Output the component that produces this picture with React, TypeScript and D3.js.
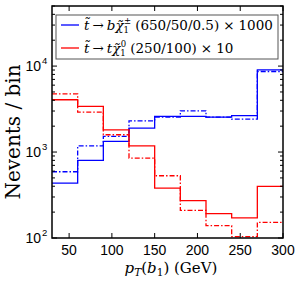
import React from "react";
import * as d3 from "d3";

// bin edges in GeV, 30 .. 300 in steps of 30
const binEdges = [30, 60, 90, 120, 150, 180, 210, 240, 270, 300];

// stop -> b chargino (blue) and stop -> t neutralino (red), events per bin
const blueSolid = [435, 800, 1330, 1900, 2600, 2600, 2550, 2650, 9050];
const blueDashDot = [590, 1180, 1520, 2310, 2550, 3020, 2550, 2420, 8650];
const redSolid = [4060, 3390, 1810, 1180, 381, 272, 192, 171, 398];
const redDashDot = [4760, 2920, 1590, 851, 530, 210, 139, 104, 152];

const xTicks = [50, 100, 150, 200, 250, 300];
const yMajor = [100, 1000, 10000];
const yTickLabels = ["2", "3", "4"];

const W = 300;
const H = 281;
const margin = { left: 52, right: 17, top: 6, bottom: 43 };

export default function App() {
  const x = d3
    .scaleLinear()
    .domain([30, 300])
    .range([margin.left, W - margin.right]);
  const y = d3
    .scaleLog()
    .domain([100, 50000])
    .range([H - margin.bottom, margin.top]);

  const stepLine = d3
    .line<[number, number]>()
    .x((d) => x(d[0]))
    .y((d) => y(Math.max(d[1], 1)))
    .curve(d3.curveStepAfter);

  const toPath = (vals: number[]) => {
    const pts: [number, number][] = vals.map((v, i) => [binEdges[i], v]);
    pts.push([binEdges[binEdges.length - 1], vals[vals.length - 1]]);
    return stepLine(pts) || "";
  };

  // minor ticks for log axis
  const yMinor: number[] = [];
  [100, 1000, 10000].forEach((dec) => {
    for (let k = 2; k <= 9; k++) {
      const v = dec * k;
      if (v <= 50000) yMinor.push(v);
    }
  });

  const x0 = x.range()[0];
  const x1 = x.range()[1];
  const yb = y.range()[0];
  const yt = y.range()[1];

  const series = [
    { vals: blueDashDot, color: "#0000ff", dash: "5,2,1.5,2" },
    { vals: blueSolid, color: "#0000ff", dash: null },
    { vals: redDashDot, color: "#ff0000", dash: "5,2,1.5,2" },
    { vals: redSolid, color: "#ff0000", dash: null },
  ];

  const serif = "'DejaVu Serif', serif";
  const sans = "'Liberation Sans', Arial, sans-serif";

  return (
    <svg
      width={W}
      height={H}
      style={{ position: "absolute", left: 0, top: 0, background: "#fff" }}
    >
      <defs>
        <clipPath id="plotClip">
          <rect x={x0} y={yt} width={x1 - x0} height={yb - yt} />
        </clipPath>
      </defs>

      <g clipPath="url(#plotClip)">
        {series.map((s, i) => (
          <path
            key={i}
            d={toPath(s.vals)}
            fill="none"
            stroke={s.color}
            strokeWidth={1.3}
            strokeDasharray={s.dash || undefined}
          />
        ))}
      </g>

      {/* ticks, inward on all sides */}
      {xTicks.map((t) => (
        <g key={"xt" + t}>
          <line x1={x(t)} x2={x(t)} y1={yb} y2={yb - 5} stroke="#000" />
          <line x1={x(t)} x2={x(t)} y1={yt} y2={yt + 5} stroke="#000" />
          <text
            x={x(t)}
            y={yb + 17}
            textAnchor="middle"
            fontFamily={sans}
            fontSize={14}
          >
            {t}
          </text>
        </g>
      ))}
      {yMajor.map((t, i) => (
        <g key={"ym" + t}>
          <line x1={x0} x2={x0 + 5} y1={y(t)} y2={y(t)} stroke="#000" />
          <line x1={x1} x2={x1 - 5} y1={y(t)} y2={y(t)} stroke="#000" />
          <text
            x={x0 - 11}
            y={y(t) + 5}
            textAnchor="end"
            fontFamily={sans}
            fontSize={14}
          >
            10
          </text>
          <text
            x={x0 - 10}
            y={y(t) - 2}
            textAnchor="start"
            fontFamily={sans}
            fontSize={9.5}
          >
            {yTickLabels[i]}
          </text>
        </g>
      ))}
      {yMinor.map((t) => (
        <g key={"yn" + t}>
          <line x1={x0} x2={x0 + 3} y1={y(t)} y2={y(t)} stroke="#000" />
          <line x1={x1} x2={x1 - 3} y1={y(t)} y2={y(t)} stroke="#000" />
        </g>
      ))}

      <rect
        x={x0}
        y={yt}
        width={x1 - x0}
        height={yb - yt}
        fill="none"
        stroke="#000"
        strokeWidth={1.5}
      />

      {/* legend */}
      <g>
        <rect
          x={56}
          y={15}
          width={222}
          height={44}
          fill="#fff"
          stroke="#555"
          strokeWidth={1}
        />
        <line x1={61} x2={79} y1={25} y2={25} stroke="#0000ff" strokeWidth={1.3} />
        <line x1={61} x2={79} y1={48} y2={48} stroke="#ff0000" strokeWidth={1.3} />
        <text x={84} y={30} fontFamily={serif} fontSize={13.5}>
          <tspan fontStyle="italic">{"t\u0303"}</tspan>
          <tspan dx={3}>{"\u2192"}</tspan>
          <tspan dx={3} fontStyle="italic">{"b\u03C7\u0303"}</tspan>
          <tspan fontSize={8.5} dy={3}>1</tspan>
          <tspan fontSize={8.5} dy={-9} dx={-5}>±</tspan>
          <tspan dy={6} dx={4}>{"(650/50/0.5)"}</tspan>
          <tspan dx={4}>{"\u00D7"}</tspan>
          <tspan dx={4}>{"1000"}</tspan>
        </text>
        <text x={84} y={53} fontFamily={serif} fontSize={13.5}>
          <tspan fontStyle="italic">{"t\u0303"}</tspan>
          <tspan dx={3}>{"\u2192"}</tspan>
          <tspan dx={3} fontStyle="italic">{"t\u03C7\u0303"}</tspan>
          <tspan fontSize={8.5} dy={3}>1</tspan>
          <tspan fontSize={8.5} dy={-9} dx={-5}>0</tspan>
          <tspan dy={6} dx={4}>{"(250/100)"}</tspan>
          <tspan dx={4}>{"\u00D7"}</tspan>
          <tspan dx={4}>{"10"}</tspan>
        </text>
      </g>

      {/* axis titles */}
      <text
        x={171}
        y={273}
        textAnchor="middle"
        fontFamily={serif}
        fontSize={15}
      >
        <tspan fontStyle="italic">p</tspan>
        <tspan fontStyle="italic" fontSize={10.5} dy={3}>T</tspan>
        <tspan dy={-3}>(</tspan>
        <tspan fontStyle="italic">b</tspan>
        <tspan fontSize={10.5} dy={3}>1</tspan>
        <tspan dy={-3}>) (GeV)</tspan>
      </text>
      <text
        transform={`translate(20, ${(yb + yt) / 2 + 10}) rotate(-90)`}
        textAnchor="middle"
        fontFamily={serif}
        fontSize={20}
      >
        Nevents / bin
      </text>
    </svg>
  );
}
